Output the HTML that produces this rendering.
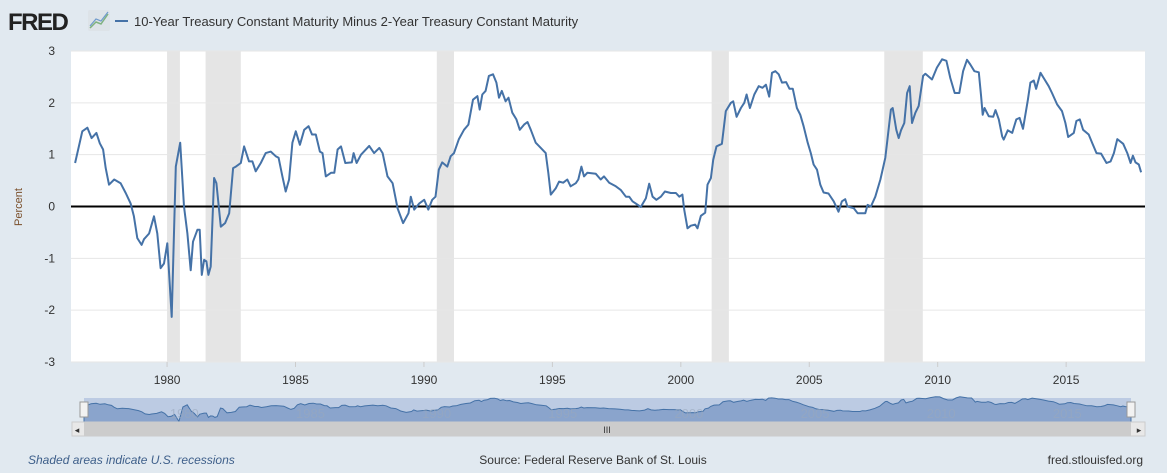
<!DOCTYPE html>
<html><head><meta charset="utf-8"><style>
html,body{margin:0;padding:0;background:#e1e9f0;}
body{width:1167px;height:468px;overflow:hidden;font-family:"Liberation Sans",sans-serif;}
</style></head><body>
<svg id="chart" width="1167" height="468" xmlns="http://www.w3.org/2000/svg" style="font-family:'Liberation Sans',sans-serif">
<rect x="0" y="0" width="1167" height="468" fill="#e1e9f0"/>
<text x="8" y="30" font-size="24" font-weight="bold" fill="#222" letter-spacing="-1.5">FRED</text>
<g><rect x="88" y="10" width="22" height="21" rx="2" fill="#dde3e8"/><polyline points="90,28 96,22 101,24 108,14" fill="none" stroke="#7fb27f" stroke-width="1.5"/><polyline points="90,26 96,19 101,21 108,12" fill="none" stroke="#6f9acb" stroke-width="1.2"/></g>
<line x1="115" y1="21" x2="128" y2="21" stroke="#4572a7" stroke-width="2"/>
<text x="134" y="26" font-size="13" fill="#333">10-Year Treasury Constant Maturity Minus 2-Year Treasury Constant Maturity</text>
<rect x="71" y="51" width="1074" height="311" fill="#fff"/>
<g id="rec"></g>
<g id="grid"></g>
<g id="yt"></g>
<g id="xt"></g>
<line id="zero" stroke="#000" stroke-width="2"/>
<path id="line" fill="none" stroke="#4572a7" stroke-width="2" stroke-linejoin="round"/>
<text transform="translate(22,207) rotate(-90)" text-anchor="middle" font-size="11" fill="#7a4f2a">Percent</text>
<g>
<rect x="84" y="398" width="1047" height="24" fill="#bccbe3"/>
<path id="navarea" fill="#8aa4cc" stroke="#4572a7" stroke-width="1"/>
<g id="navlab"></g>
<rect x="80" y="402" width="8" height="15" fill="#f2f2f2" stroke="#999"/>
<rect x="1127" y="402" width="8" height="15" fill="#f2f2f2" stroke="#999"/>
<rect x="72" y="422" width="1073" height="14" fill="#e8e8e8" stroke="#ccc"/>
<rect x="84" y="422" width="1047" height="14" fill="#ccc"/>
<text x="607" y="433" font-size="9" fill="#333" text-anchor="middle">III</text>
<text x="77" y="433" font-size="9" fill="#333" text-anchor="middle">◂</text>
<text x="1139" y="433" font-size="9" fill="#333" text-anchor="middle">▸</text>
</g>
<text x="28" y="464" font-size="12" font-style="italic" fill="#3e5f8a">Shaded areas indicate U.S. recessions</text>
<text x="593" y="464" font-size="12" fill="#333" text-anchor="middle">Source: Federal Reserve Bank of St. Louis</text>
<text x="1143" y="464" font-size="12" fill="#333" text-anchor="end">fred.stlouisfed.org</text>
</svg>
<script>
const dates=[1976.42,1976.70,1976.90,1977.06,1977.25,1977.38,1977.51,1977.61,1977.74,1977.94,1978.19,1978.39,1978.58,1978.71,1978.84,1979.01,1979.10,1979.30,1979.49,1979.62,1979.75,1979.88,1980.01,1980.18,1980.34,1980.51,1980.66,1980.79,1980.92,1981.01,1981.18,1981.27,1981.35,1981.44,1981.53,1981.61,1981.70,1981.83,1981.92,1982.09,1982.26,1982.42,1982.57,1982.68,1982.87,1983.00,1983.19,1983.32,1983.45,1983.65,1983.84,1984.04,1984.23,1984.34,1984.49,1984.62,1984.75,1984.88,1985.01,1985.17,1985.34,1985.51,1985.64,1985.79,1985.95,1986.05,1986.18,1986.38,1986.51,1986.64,1986.77,1986.94,1987.19,1987.26,1987.38,1987.55,1987.87,1988.06,1988.26,1988.39,1988.58,1988.78,1988.91,1988.97,1989.19,1989.40,1989.49,1989.62,1989.82,1990.01,1990.17,1990.32,1990.45,1990.58,1990.71,1990.91,1991.04,1991.17,1991.36,1991.56,1991.73,1991.91,1992.08,1992.17,1992.27,1992.40,1992.53,1992.69,1992.82,1992.92,1993.03,1993.18,1993.29,1993.44,1993.60,1993.73,1993.90,1994.03,1994.16,1994.35,1994.55,1994.74,1994.84,1994.94,1995.13,1995.26,1995.42,1995.58,1995.71,1995.91,1996.01,1996.13,1996.23,1996.36,1996.69,1996.88,1997.01,1997.21,1997.47,1997.66,1997.86,1997.99,1998.12,1998.44,1998.64,1998.77,1998.90,1999.05,1999.22,1999.38,1999.61,1999.81,1999.94,2000.06,2000.13,2000.26,2000.39,2000.56,2000.65,2000.78,2000.95,2001.04,2001.17,2001.26,2001.39,2001.60,2001.75,2001.95,2002.04,2002.17,2002.34,2002.47,2002.56,2002.69,2002.86,2003.03,2003.18,2003.31,2003.44,2003.55,2003.68,2003.81,2003.94,2004.10,2004.23,2004.36,2004.52,2004.65,2004.78,2004.94,2005.06,2005.17,2005.30,2005.43,2005.56,2005.75,2005.95,2006.14,2006.27,2006.40,2006.49,2006.73,2006.88,2007.18,2007.27,2007.40,2007.57,2007.77,2007.96,2008.05,2008.18,2008.25,2008.39,2008.48,2008.57,2008.70,2008.81,2008.91,2009.00,2009.13,2009.26,2009.43,2009.52,2009.78,2009.97,2010.17,2010.34,2010.49,2010.66,2010.84,2010.99,2011.14,2011.27,2011.43,2011.60,2011.69,2011.75,2011.82,2011.99,2012.16,2012.25,2012.38,2012.51,2012.57,2012.73,2012.90,2013.06,2013.19,2013.32,2013.51,2013.61,2013.74,2013.83,2014.00,2014.16,2014.32,2014.45,2014.65,2014.84,2014.97,2015.08,2015.30,2015.40,2015.53,2015.66,2015.88,2016.01,2016.18,2016.36,2016.57,2016.73,2016.86,2016.99,2017.22,2017.38,2017.51,2017.60,2017.70,2017.83,2017.92];
const values=[0.84,1.45,1.52,1.32,1.42,1.22,1.1,0.74,0.42,0.52,0.45,0.26,0.06,-0.19,-0.61,-0.74,-0.63,-0.52,-0.19,-0.52,-1.19,-1.1,-0.71,-2.13,0.77,1.23,0,-0.52,-1.23,-0.68,-0.45,-0.45,-1.32,-1.03,-1.06,-1.32,-1.16,0.55,0.45,-0.39,-0.32,-0.13,0.74,0.77,0.84,1.16,0.87,0.87,0.68,0.84,1.03,1.06,0.97,0.94,0.58,0.29,0.52,1.23,1.45,1.19,1.48,1.55,1.39,1.39,1.06,1.03,0.58,0.65,0.65,1.1,1.16,0.84,0.85,1.03,0.84,1.0,1.17,1.03,1.13,1.03,0.58,0.45,0.13,-0.03,-0.32,-0.13,0.19,-0.06,0.06,0.13,-0.06,0.13,0.19,0.71,0.85,0.77,0.97,1.03,1.3,1.48,1.58,2.06,2.13,1.87,2.16,2.23,2.52,2.55,2.39,2.1,2.23,2.03,2.1,1.81,1.68,1.48,1.58,1.63,1.48,1.23,1.13,1.03,0.65,0.23,0.35,0.48,0.46,0.52,0.39,0.45,0.52,0.77,0.58,0.65,0.63,0.52,0.58,0.46,0.39,0.32,0.19,0.19,0.1,-0.01,0.16,0.44,0.19,0.13,0.19,0.29,0.26,0.26,0.19,0.23,-0.06,-0.42,-0.37,-0.35,-0.42,-0.18,-0.12,0.42,0.55,0.9,1.16,1.21,1.84,2.0,2.03,1.73,1.9,2.0,2.16,1.9,2.16,2.32,2.29,2.35,2.12,2.58,2.61,2.55,2.39,2.4,2.27,2.27,1.9,1.77,1.55,1.23,1.03,0.81,0.71,0.42,0.27,0.25,0.1,-0.1,0.1,0.14,0,-0.03,-0.13,-0.13,0.03,0,0.19,0.52,0.94,1.32,1.87,1.9,1.48,1.32,1.47,1.61,2.19,2.32,1.61,1.81,1.94,2.52,2.56,2.45,2.68,2.84,2.81,2.48,2.19,2.19,2.61,2.83,2.74,2.61,2.59,2.13,1.77,1.9,1.74,1.73,1.86,1.68,1.35,1.29,1.47,1.42,1.68,1.71,1.5,2.06,2.39,2.43,2.27,2.58,2.45,2.32,2.19,1.97,1.84,1.61,1.34,1.42,1.65,1.68,1.48,1.39,1.23,1.03,1.02,0.84,0.87,1.03,1.3,1.21,1.03,0.84,0.98,0.85,0.81,0.66];
const recStart=[1980.0,1981.5,1990.5,2001.2,2007.92];
const recEnd=[1980.5,1982.87,1991.17,2001.87,2009.42];
const yTicks=[3,2,1,0,-1,-2,-3];
const xTicks=[1980,1985,1990,1995,2000,2005,2010,2015];
const NS="http://www.w3.org/2000/svg";
const X0=71,X1=1145,Y0=51,Y1=362,T0=1976.26,T1=2018.07;
const xs=t=>X0+(t-T0)/(T1-T0)*(X1-X0);
const ys=v=>Y0+(3-v)/6*(Y1-Y0);
function mk(tag,attrs,parent){const e=document.createElementNS(NS,tag);for(const k in attrs)e.setAttribute(k,attrs[k]);parent.appendChild(e);return e;}
const rec=document.getElementById('rec');
recStart.forEach((s,i)=>{const r=mk('rect',{x:xs(s),y:Y0,width:xs(recEnd[i])-xs(s),height:Y1-Y0,fill:'#e5e5e5'},rec);

});
const grid=document.getElementById('grid'),yt=document.getElementById('yt'),xt=document.getElementById('xt');
yTicks.forEach(v=>{const l=mk('line',{x1:X0,x2:X1,y1:ys(v),y2:ys(v),stroke:'#e6e6e6','stroke-width':1},grid);


const t=mk('text',{x:55,y:ys(v)+4,'text-anchor':'end','font-size':12,fill:'#333'},yt);t.textContent=v;

});
xTicks.forEach(y=>{const t=mk('text',{x:xs(y),y:384,'text-anchor':'middle','font-size':12,fill:'#333'},xt);t.textContent=y;


const tk=mk('line',{x1:xs(y),x2:xs(y),y1:Y1,y2:Y1+5,stroke:'#ccc'},xt);

});
const z=document.getElementById('zero');z.setAttribute('x1',X0);z.setAttribute('x2',X1);z.setAttribute('y1',ys(0));z.setAttribute('y2',ys(0));
document.getElementById('line').setAttribute('d',dates.map((d,i)=>(i?'L':'M')+xs(d).toFixed(1)+','+ys(values[i]).toFixed(1)).join(''));
const NX0=84,NX1=1131,NY0=398,NY1=422;
const nx=t=>NX0+(t-dates[0])/(dates[dates.length-1]-dates[0])*(NX1-NX0);
const ny=v=>NY0+2+(3-v)/6*(NY1-NY0-2)*1.35-4;
let d='M'+nx(dates[0])+','+NY1;dates.forEach((t,i)=>{d+='L'+nx(t).toFixed(1)+','+Math.min(NY1,ny(values[i])).toFixed(1);});d+='L'+nx(dates[dates.length-1])+','+NY1+'Z';
document.getElementById('navarea').setAttribute('d',d);
const nl=document.getElementById('navlab');
xTicks.forEach(y=>{const t=mk('text',{x:nx(y)+10,y:418,'text-anchor':'middle','font-size':13,fill:'#9aa8bc','fill-opacity':0.6},nl);t.textContent=y;

});
</script>
</body></html>
